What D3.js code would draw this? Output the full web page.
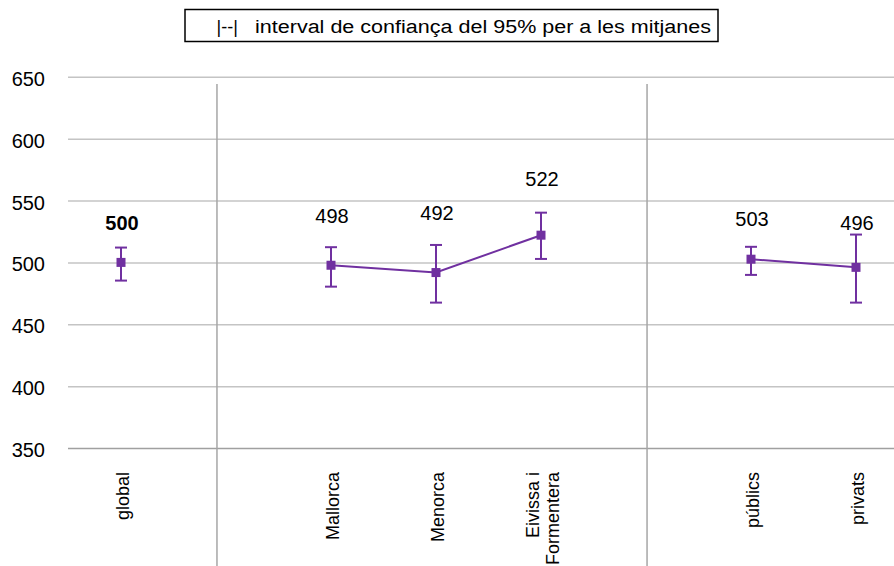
<!DOCTYPE html>
<html>
<head>
<meta charset="utf-8">
<script src="https://cdn.jsdelivr.net/npm/d3@7"></script>
<style>
  html, body { margin: 0; padding: 0; background: #fff; }
  svg { display: block; font-family: "Liberation Sans", Arial, sans-serif; }
</style>
</head>
<body>
<svg id="chart" width="894" height="566"></svg>
<script>
// ---- data ----
const slots = ["global", "_gap1", "Mallorca", "Menorca", "Eivissa i\nFormentera", "_gap2", "públics", "privats"];
const categories = ["global", "Mallorca", "Menorca", "Eivissa i\nFormentera", "públics", "privats"];
const groups = ["global", "illes", "illes", "illes", "titularitat", "titularitat"];
const means = [500.4, 498.1, 492.2, 522.4, 503.0, 496.4];
const ciLow = [485.7, 480.8, 467.9, 503.2, 490.3, 467.9];
const ciHigh = [512.4, 512.7, 514.5, 540.6, 513.0, 522.9];
const labelAt = [526.7, 532.6, 534.8, 562.3, 530.2, 526.7];
const boldLabel = [true, false, false, false, false, false];
const yTicks = [350, 400, 450, 500, 550, 600, 650];
const dividers = [0.914, 5.01]; // in slot units
const legendText = "interval de confiança del 95% per a les mitjanes";

// ---- layout ----
const svg = d3.select("#chart");
const purple = "#7030a0";
const x = d3.scaleBand().domain(slots).range([68.5, 908.5]).paddingInner(0).paddingOuter(0);
const slotX = d3.scaleLinear().domain([-0.5, slots.length - 0.5]).range(x.range());
const y = d3.scaleLinear().domain([350, 650]).range([448.5, 77.3]);
const cx = c => x(c) + x.bandwidth() / 2;

// legend box
svg.append("rect").attr("x", 185).attr("y", 9.5).attr("width", 533).attr("height", 32)
  .attr("fill", "#fff").attr("stroke", "#000").attr("stroke-width", 1.5);
svg.append("text").attr("x", 216.5).attr("y", 33).attr("font-size", 18).attr("fill", "#000")
  .text("|--|");
svg.append("text").attr("x", 255).attr("y", 33).attr("font-size", 18).attr("fill", "#000")
  .attr("textLength", 456).attr("lengthAdjust", "spacingAndGlyphs").text(legendText);

// gridlines
svg.append("g").selectAll("line").data(yTicks).join("line")
  .attr("x1", 68).attr("x2", 894)
  .attr("y1", d => y(d)).attr("y2", d => y(d))
  .attr("stroke", d => d === 350 ? "#a0a0a0" : "#c4c4c4")
  .attr("stroke-width", 1.5);

// y axis labels
const yAxis = d3.axisLeft(y).tickValues(yTicks).tickSize(0).tickPadding(0);
const gy = svg.append("g").attr("transform", "translate(45,0)").call(yAxis);
gy.select(".domain").remove();
gy.selectAll("text").attr("font-size", 20).attr("font-family", "Liberation Sans, Arial, sans-serif")
  .attr("fill", "#000").attr("dy", "0.4em");

// dividers
svg.append("g").selectAll("line").data(dividers).join("line")
  .attr("x1", d => slotX(d)).attr("x2", d => slotX(d))
  .attr("y1", 84).attr("y2", 566)
  .attr("stroke", "#a6a6a6").attr("stroke-width", 1.5);

// category labels (rotated)
const catG = svg.append("g");
categories.forEach(c => {
  const lines = c.split("\n");
  const t = catG.append("text")
    .attr("transform", `translate(${cx(c)},472) rotate(-90)`)
    .attr("text-anchor", "end").attr("font-size", 18).attr("fill", "#000");
  lines.forEach((ln, i) => {
    t.append("tspan").attr("x", 0)
      .attr("y", 8 + (i - (lines.length - 1) / 2) * 20)
      .text(ln);
  });
});

// data records
const pts = categories.map((c, i) => ({c, g: groups[i], m: means[i], lo: ciLow[i], hi: ciHigh[i], la: labelAt[i], b: boldLabel[i]}));

// connecting lines per group
const line = d3.line().x(d => cx(d.c)).y(d => y(d.m));
const byGroup = d3.groups(pts, d => d.g);
svg.append("g").selectAll("path").data(byGroup.filter(g => g[1].length > 1)).join("path")
  .attr("d", d => line(d[1])).attr("fill", "none").attr("stroke", purple).attr("stroke-width", 2);

// error bars
const eb = svg.append("g").attr("stroke", purple).attr("stroke-width", 2);
eb.selectAll("line.v").data(pts).join("line").attr("class", "v")
  .attr("x1", d => cx(d.c)).attr("x2", d => cx(d.c))
  .attr("y1", d => y(d.lo)).attr("y2", d => y(d.hi));
eb.selectAll("line.top").data(pts).join("line").attr("class", "top")
  .attr("x1", d => cx(d.c) - 6).attr("x2", d => cx(d.c) + 6)
  .attr("y1", d => y(d.hi)).attr("y2", d => y(d.hi));
eb.selectAll("line.bot").data(pts).join("line").attr("class", "bot")
  .attr("x1", d => cx(d.c) - 6).attr("x2", d => cx(d.c) + 6)
  .attr("y1", d => y(d.lo)).attr("y2", d => y(d.lo));

// markers
svg.append("g").selectAll("rect").data(pts).join("rect")
  .attr("x", d => cx(d.c) - 4.5).attr("y", d => y(d.m) - 4.5)
  .attr("width", 9).attr("height", 9).attr("fill", purple);

// value labels
svg.append("g").selectAll("text").data(pts).join("text")
  .attr("x", d => cx(d.c) + 1).attr("y", d => y(d.la))
  .attr("text-anchor", "middle").attr("font-size", 20)
  .attr("font-weight", d => d.b ? "bold" : "normal").attr("fill", "#000")
  .text(d => Math.round(d.m));
</script>
</body>
</html>
